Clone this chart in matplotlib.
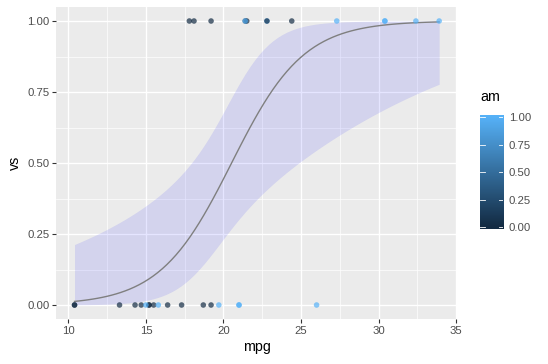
import numpy as np
import matplotlib
matplotlib.use("Agg")
import matplotlib.pyplot as plt
from matplotlib.colors import LinearSegmentedColormap, Normalize

plt.rcParams['font.family'] = ['Liberation Sans', 'DejaVu Sans']

# mtcars data
mpg = [21.0, 21.0, 22.8, 21.4, 18.7, 18.1, 14.3, 24.4, 22.8, 19.2, 17.8, 16.4,
       17.3, 15.2, 10.4, 10.4, 14.7, 32.4, 30.4, 33.9, 21.5, 15.5, 15.2, 13.3,
       19.2, 27.3, 26.0, 30.4, 15.8, 19.7, 15.0, 21.4]
vs = [0, 0, 1, 1, 0, 1, 0, 1, 1, 1, 1, 0, 0, 0, 0, 0, 0, 1, 1, 1, 1, 0, 0, 0,
      0, 1, 0, 1, 0, 0, 0, 1]
am = [1, 1, 1, 0, 0, 0, 0, 0, 0, 0, 0, 0, 0, 0, 0, 0, 0, 1, 1, 1, 0, 0, 0, 0,
      0, 1, 1, 1, 1, 1, 1, 1]
x_ticks = [10, 15, 20, 25, 30, 35]
y_ticks = [0.0, 0.25, 0.5, 0.75, 1.0]
cbar_ticks = [0.0, 0.25, 0.5, 0.75, 1.0]

x = np.array(mpg, float)
y = np.array(vs, float)
c = np.array(am, float)

# logistic regression (binomial glm) via IRLS, like stat_smooth(method="glm")
X = np.column_stack([np.ones_like(x), x])
beta = np.zeros(2)
for _ in range(50):
    eta = X @ beta
    p = 1 / (1 + np.exp(-eta))
    w = p * (1 - p)
    z = eta + (y - p) / w
    beta = np.linalg.solve(X.T @ (X * w[:, None]), X.T @ (w * z))
eta = X @ beta
p = 1 / (1 + np.exp(-eta))
w = p * (1 - p)
V = np.linalg.inv(X.T @ (X * w[:, None]))
xg = np.linspace(x.min(), x.max(), 80)
Xg = np.column_stack([np.ones_like(xg), xg])
fit = Xg @ beta
se = np.sqrt(np.einsum('ij,jk,ik->i', Xg, V, Xg))
inv = lambda t: 1 / (1 + np.exp(-t))
yfit, ylo, yhi = inv(fit), inv(fit - 1.96 * se), inv(fit + 1.96 * se)

W, H = 548, 364
fig = plt.figure(figsize=(W / 100, H / 100), dpi=100)
fig.patch.set_facecolor('white')

l, r, t, b = 56.3, 457.4, 6.8, 319.2
ax = fig.add_axes([l / W, 1 - b / H, (r - l) / W, (b - t) / H])
ax.set_facecolor('#EBEBEB')
for s in ax.spines.values():
    s.set_visible(False)

cmap = LinearSegmentedColormap.from_list('gg', ['#132B43', '#56B1F7'])
norm = Normalize(0, 1)

# grid
xr = (x.max() - x.min()) * 0.05
ax.set_xlim(x.min() - xr, x.max() + xr)
ax.set_ylim(-0.05, 1.05)
ax.set_xticks(x_ticks)
ax.set_yticks(y_ticks)
ax.set_xticks([12.5, 17.5, 22.5, 27.5, 32.5], minor=True)
ax.set_yticks([0.125, 0.375, 0.625, 0.875], minor=True)
ax.grid(True, which='major', color='white', linewidth=1.0)
ax.grid(True, which='minor', color='white', linewidth=0.5)
ax.set_axisbelow(True)

ax.fill_between(xg, ylo, yhi, color='blue', alpha=0.1, linewidth=0, zorder=2)
ax.plot(xg, yfit, color='#7F7F7F', linewidth=1.0, zorder=3)
ax.scatter(x, y, c=c, cmap=cmap, norm=norm, s=16, alpha=0.7, linewidths=0, zorder=4)

ax.tick_params(axis='both', which='major', length=2.7, width=0.8, color='#333333',
               labelsize=8.2, labelcolor='#4D4D4D', pad=2)
ax.tick_params(axis='both', which='minor', length=0)
ax.set_yticklabels(['0.00', '0.25', '0.50', '0.75', '1.00'])
ax.set_xticklabels([str(v) for v in x_ticks])
ax.set_xlabel('mpg', fontsize=10.3, color='black', labelpad=3)
ax.set_ylabel('vs', fontsize=10.3, color='black', labelpad=4)

# colorbar
cb_l, cb_r, cb_t, cb_b = 480, 503.3, 115, 229.5
cax = fig.add_axes([cb_l / W, 1 - cb_b / H, (cb_r - cb_l) / W, (cb_b - cb_t) / H])
# bar extends slightly beyond the data range
ext = 0.022
grad = np.linspace(-ext, 1 + ext, 300).reshape(-1, 1)
cax.imshow(grad, aspect='auto', cmap=cmap, norm=norm, origin='lower',
           extent=[0, 1, -ext, 1 + ext])
cax.set_xlim(0, 1)
cax.set_ylim(-ext, 1 + ext)
for s in cax.spines.values():
    s.set_visible(False)
cax.set_xticks([])
cax.set_yticks(cbar_ticks)
cax.set_yticklabels(['0.00', '0.25', '0.50', '0.75', '1.00'])
cax.yaxis.tick_right()
cax.tick_params(axis='y', length=0, labelsize=8.2, labelcolor='#4D4D4D', pad=4)
for tv in cbar_ticks:
    cax.plot([0, 0.2], [tv, tv], color='white', linewidth=0.6)
    cax.plot([0.8, 1], [tv, tv], color='white', linewidth=0.6)
fig.text(cb_l / W, 1 - 97 / H, 'am', fontsize=10.3, color='black', ha='left', va='center')

fig.savefig('out.png', dpi=100)
